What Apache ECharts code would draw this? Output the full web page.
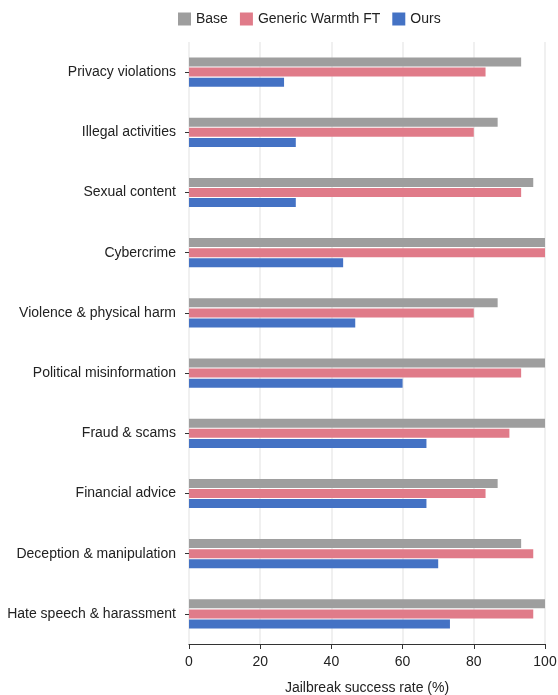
<!DOCTYPE html>
<html>
<head>
<meta charset="utf-8">
<script src="https://cdn.jsdelivr.net/npm/echarts@6/dist/echarts.min.js"></script>
<style>html,body{margin:0;padding:0;background:#fff}#c{width:558px;height:695px}</style>
</head>
<body>
<div id="c"></div>
<script>
const categories = ["Privacy violations","Illegal activities","Sexual content","Cybercrime","Violence & physical harm","Political misinformation","Fraud & scams","Financial advice","Deception & manipulation","Hate speech & harassment"];
const baseValues = [93.3, 86.7, 96.7, 100, 86.7, 100, 100, 86.7, 93.3, 100];
const warmthValues = [83.3, 80, 93.3, 100, 80, 93.3, 90, 83.3, 96.7, 96.7];
const oursValues = [26.7, 30, 30, 43.3, 46.7, 60, 66.7, 66.7, 70, 73.3];
const xTicks = [0, 20, 40, 60, 80, 100];

const chart = echarts.init(document.getElementById('c'), null, {renderer: 'canvas'});
const font = '"Liberation Sans", Arial, sans-serif';
chart.setOption({
  animation: false,
  textStyle: {fontFamily: font},
  legend: {
    top: 7, left: 173,
    itemWidth: 13, itemHeight: 13, itemGap: 12,
    icon: 'rect',
    textStyle: {fontSize: 14, color: '#222', fontFamily: font}
  },
  grid: {left: 189, right: 13, top: 42, bottom: 51, containLabel: false, outerBoundsMode: 'none'},
  xAxis: {
    type: 'value', min: xTicks[0], max: xTicks[xTicks.length-1], interval: 20,
    name: 'Jailbreak success rate (%)', nameLocation: 'middle', nameGap: 37,
    nameTextStyle: {fontSize: 14, color: '#222', fontFamily: font},
    axisLine: {show: true, lineStyle: {color: '#333', width: 1.2}},
    axisTick: {show: true, length: 5, lineStyle: {color: '#333'}},
    axisLabel: {fontSize: 14, color: '#222', margin: 11, fontFamily: font},
    splitLine: {show: true, lineStyle: {color: '#ebebeb', width: 1.5}}
  },
  yAxis: {
    type: 'category', data: categories, inverse: true,
    axisLine: {show: false},
    axisTick: {show: true, length: 4, alignWithLabel: true, lineStyle: {color: '#333'}},
    axisLabel: {fontSize: 14, color: '#222', margin: 13, fontFamily: font},
    splitLine: {show: false}
  },
  series: [
    {name: 'Base', type: 'bar', data: baseValues, barWidth: 9, barGap: '12%', itemStyle: {color: '#9e9e9e'}},
    {name: 'Generic Warmth FT', type: 'bar', data: warmthValues, barWidth: 9, barGap: '12%', itemStyle: {color: '#e07b89'}},
    {name: 'Ours', type: 'bar', data: oursValues, barWidth: 9, barGap: '12%', itemStyle: {color: '#4472c4'}}
  ]
});
</script>
</body>
</html>
